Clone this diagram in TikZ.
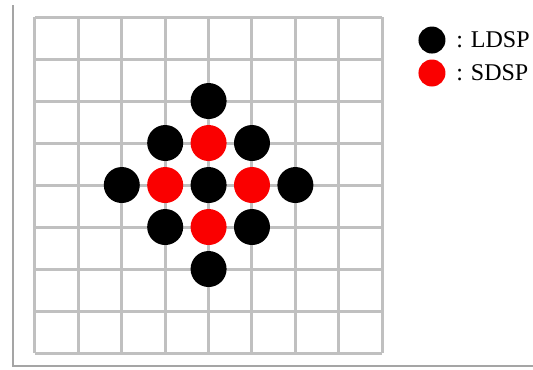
\documentclass[tikz,border=0pt]{standalone}
\usepackage{fontspec}
\setmainfont{Liberation Serif}
\usepackage{tikz}
\usetikzlibrary{positioning}
\definecolor{gridgray}{RGB}{192,192,192}
\definecolor{framegray}{RGB}{165,165,165}
\definecolor{sdspred}{RGB}{250,0,0}
\tikzset{
  gridline/.style={gridgray,line width=1.5pt},
  ldsp/.style={circle,fill=black,inner sep=0pt,minimum size=18pt},
  sdsp/.style={circle,fill=sdspred,inner sep=0pt,minimum size=18pt},
  keydot/.style={circle,inner sep=0pt,minimum size=13.5pt},
  key/.style={anchor=west,inner sep=0pt,font=\fontsize{12}{14}\selectfont}
}

\begin{document}
\begin{tikzpicture}[x=21.7pt,y=-21pt]
  \useasboundingbox (-0.806,-0.405) rectangle (11.475,8.381);
  % frame
  \draw[framegray,line width=1pt] (-0.507,-0.286) -- (-0.507,8.31) -- (11.475,8.31);
  % search grid
  \foreach \i in {0,...,8} {
    \draw[gridline] (\i,0) -- (\i,8);
    \draw[gridline] (0,\i) -- (8,\i);
  }
  % large diamond search pattern
  \foreach \x/\y [count=\n] in {4/2,3/3,5/3,2/4,4/4,6/4,3/5,5/5,4/6}
    \node[ldsp] (l\n) at (\x,\y) {};
  % small diamond search pattern
  \foreach \x/\y [count=\n] in {4/3,3/4,5/4,4/5}
    \node[sdsp] (s\n) at (\x,\y) {};
  % legend
  \node[keydot,fill=black] (keyl) at (9.147,0.548) {};
  \node[keydot,fill=sdspred] (keys) at (9.147,1.333) {};
  \node[key,right=5pt of keyl] (keyltext) {: LDSP};
  \node[key,right=5pt of keys] (keystext) {: SDSP};
\end{tikzpicture}
\end{document}
